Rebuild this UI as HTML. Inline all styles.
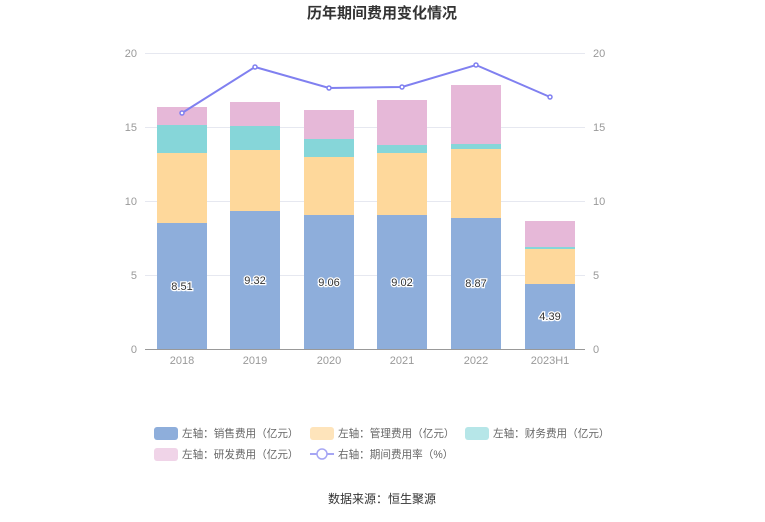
<!DOCTYPE html>
<html><head><meta charset="utf-8"><style>
body{margin:0;background:#fff;}
svg text{font-family:"Liberation Sans","Noto Sans CJK SC",sans-serif;}
</style></head><body>
<svg width="765" height="517" viewBox="0 0 765 517" xmlns="http://www.w3.org/2000/svg">
<text x="382" y="18" text-anchor="middle" font-size="15" font-weight="bold" fill="#333">历年期间费用变化情况</text>
<g stroke="#e6e8f0" stroke-width="1">
<line x1="145" y1="53.5" x2="585" y2="53.5"/>
<line x1="145" y1="127.5" x2="585" y2="127.5"/>
<line x1="145" y1="201.5" x2="585" y2="201.5"/>
<line x1="145" y1="275.5" x2="585" y2="275.5"/>
</g>
<line x1="145" y1="349.5" x2="585" y2="349.5" stroke="#999"/>
<g font-size="11" fill="#999" text-anchor="end">
<text x="137" y="57">20</text><text x="137" y="131">15</text><text x="137" y="205">10</text><text x="137" y="279">5</text><text x="137" y="353">0</text>
</g>
<g font-size="11" fill="#999" text-anchor="start">
<text x="593" y="57">20</text><text x="593" y="131">15</text><text x="593" y="205">10</text><text x="593" y="279">5</text><text x="593" y="353">0</text>
</g>
<g font-size="11" fill="#999" text-anchor="middle">
<text x="182" y="364">2018</text><text x="255" y="364">2019</text><text x="329" y="364">2020</text><text x="402" y="364">2021</text><text x="476" y="364">2022</text><text x="550" y="364">2023H1</text>
</g>
<g>
<rect x="157" y="223" width="50" height="126" fill="#8eaedb"/>
<rect x="157" y="153" width="50" height="70" fill="#fed89b"/>
<rect x="157" y="125" width="50" height="28" fill="#86d6d9"/>
<rect x="157" y="107" width="50" height="18" fill="#e6b8d8"/>

<rect x="230" y="211" width="50" height="138" fill="#8eaedb"/>
<rect x="230" y="150" width="50" height="61" fill="#fed89b"/>
<rect x="230" y="126" width="50" height="24" fill="#86d6d9"/>
<rect x="230" y="102" width="50" height="24" fill="#e6b8d8"/>

<rect x="304" y="215" width="50" height="134" fill="#8eaedb"/>
<rect x="304" y="157" width="50" height="58" fill="#fed89b"/>
<rect x="304" y="139" width="50" height="18" fill="#86d6d9"/>
<rect x="304" y="110" width="50" height="29" fill="#e6b8d8"/>

<rect x="377" y="215" width="50" height="134" fill="#8eaedb"/>
<rect x="377" y="153" width="50" height="62" fill="#fed89b"/>
<rect x="377" y="145" width="50" height="8" fill="#86d6d9"/>
<rect x="377" y="100" width="50" height="45" fill="#e6b8d8"/>

<rect x="451" y="218" width="50" height="131" fill="#8eaedb"/>
<rect x="451" y="149" width="50" height="69" fill="#fed89b"/>
<rect x="451" y="144" width="50" height="5" fill="#86d6d9"/>
<rect x="451" y="85" width="50" height="59" fill="#e6b8d8"/>

<rect x="525" y="284" width="50" height="65" fill="#8eaedb"/>
<rect x="525" y="249" width="50" height="35" fill="#fed89b"/>
<rect x="525" y="247" width="50" height="2" fill="#86d6d9"/>
<rect x="525" y="221" width="50" height="26" fill="#e6b8d8"/>
</g>
<g font-size="11" fill="#333" text-anchor="middle" stroke="#fff" stroke-width="2.5" paint-order="stroke">
<text x="182" y="290">8.51</text><text x="255" y="284">9.32</text><text x="329" y="286">9.06</text><text x="402" y="286">9.02</text><text x="476" y="287">8.87</text><text x="550" y="320">4.39</text>
</g>
<polyline points="182,113 255,67 329,88 402,87 476,65 550,97" fill="none" stroke="#8080f0" stroke-width="2"/>
<g fill="#fff" stroke="#8080f0" stroke-width="1.5">
<circle cx="182" cy="113" r="2"/><circle cx="255" cy="67" r="2"/><circle cx="329" cy="88" r="2"/><circle cx="402" cy="87" r="2"/><circle cx="476" cy="65" r="2"/><circle cx="550" cy="97" r="2"/>
</g>
<g font-size="10.6" fill="#666">
<rect x="154" y="427" width="24" height="13" rx="3" fill="#8eaedb"/><text x="182" y="437">左轴：销售费用（亿元）</text>
<rect x="310" y="427" width="24" height="13" rx="3" fill="#fee4bb"/><text x="338" y="437">左轴：管理费用（亿元）</text>
<rect x="465" y="427" width="24" height="13" rx="3" fill="#b6e6e8"/><text x="493" y="437">左轴：财务费用（亿元）</text>
<rect x="154" y="448" width="24" height="13" rx="3" fill="#f0d4e8"/><text x="182" y="458">左轴：研发费用（亿元）</text>
<line x1="310" y1="454" x2="334" y2="454" stroke="#a6a6f4" stroke-width="2"/><circle cx="322" cy="454" r="5" fill="#fff" stroke="#a6a6f4" stroke-width="1.5"/><text x="338" y="458">右轴：期间费用率（%）</text>
</g>
<text x="382" y="503" text-anchor="middle" font-size="12" fill="#333">数据来源：恒生聚源</text>
</svg>
</body></html>
